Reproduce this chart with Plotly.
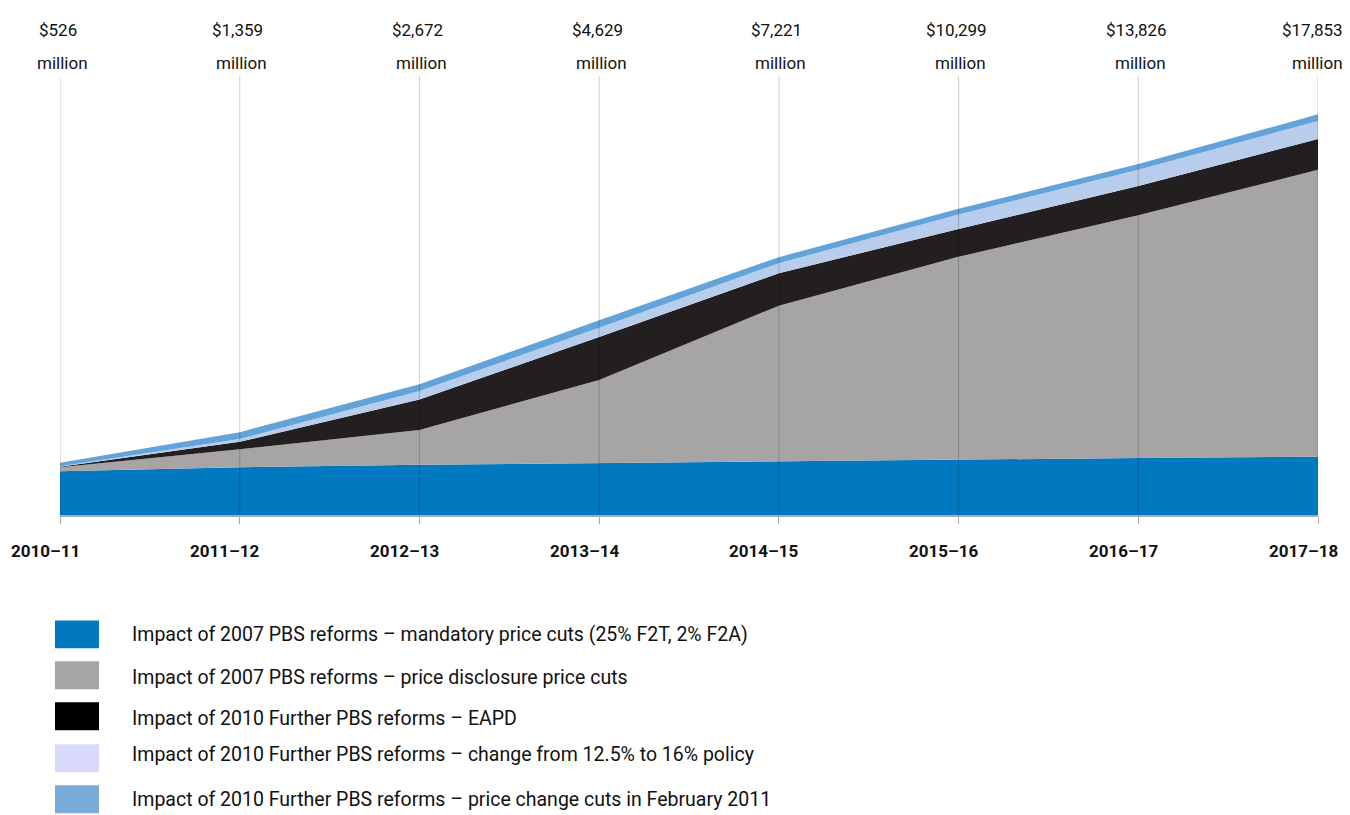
import plotly.graph_objects as go
import numpy as np

years = ["2010–11", "2011–12", "2012–13", "2013–14", "2014–15", "2015–16", "2016–17", "2017–18"]
mandatory = [440, 480, 505, 522, 545, 555, 573, 586]
disclosure = [40, 180, 350, 835, 1559, 2040, 2440, 2884]
eapd = [5, 76, 306, 431, 326, 280, 294, 309]
policy = [5, 27, 85, 94, 101, 146, 163, 181]
feb2011 = [36, 70, 67, 75, 61, 57, 57, 67]

names = [
    "Impact of 2007 PBS reforms – mandatory price cuts (25% F2T, 2% F2A)",
    "Impact of 2007 PBS reforms – price disclosure price cuts",
    "Impact of 2010 Further PBS reforms – EAPD",
    "Impact of 2010 Further PBS reforms – change from 12.5% to 16% policy",
    "Impact of 2010 Further PBS reforms – price change cuts in February 2011",
]
series = [mandatory, disclosure, eapd, policy, feb2011]
fill_colors = ["#0079c1", "#a6a4a5", "#231f20", "#b8cdeb", "#62a3d9"]
legend_colors = ["#0079c1", "#a6a4a5", "#000000", "#d9d9fb", "#7aaad6"]

FONT = "Roboto, Liberation Sans Narrow, sans-serif"

x = list(range(len(years)))
fig = go.Figure()
for nm, vals, col in zip(names, series, fill_colors):
    fig.add_trace(go.Scatter(
        x=x, y=vals, name=nm, stackgroup="one", mode="lines",
        line=dict(width=0, color=col), fillcolor=col, showlegend=False,
        hoverinfo="skip",
    ))

annual = np.sum(np.array(series), axis=0)
cumulative = np.cumsum(annual)

# page has an 8px body margin; target plot area on the page: x 60..1318, y 76..515.5
OFF = 8
W, H = 1350, 815
ml, mr, mt, mb = 60 - OFF, W + OFF - 1318, 76 - OFF, H + OFF - 515.5
plot_w = W - ml - mr
plot_h = H - mt - mb
px_per_m = 1 / 10.04
ymax = plot_h / px_per_m

annotations = []
last = len(cumulative) - 1
for i, c in enumerate(cumulative):
    if i == last:
        anchor, s1, s2 = "right", 27, 27
    else:
        anchor, s1, s2 = "center", -2, 2
    annotations.append(dict(x=i, y=1, xref="x", yref="paper", yanchor="middle", xanchor=anchor,
                            yshift=(76 - 30), xshift=s1, showarrow=False,
                            text=f"${int(c):,}", font=dict(family=FONT, size=17, color="#111")))
    annotations.append(dict(x=i, y=1, xref="x", yref="paper", yanchor="middle", xanchor=anchor,
                            yshift=(76 - 63), xshift=s2, showarrow=False,
                            text="million", font=dict(family=FONT, size=17, color="#111")))

# category labels under the axis (shifted slightly left of the ticks, as in the original)
for i, yr in enumerate(years):
    annotations.append(dict(x=i, y=0, xref="x", yref="paper", yanchor="middle",
                            yshift=-(551 - 515.5), xshift=-15, showarrow=False,
                            text=f"<b>{yr}</b>", font=dict(family=FONT, size=17, color="#111")))

shapes = []
for i in x:
    shapes.append(dict(type="line", xref="x", yref="paper", x0=i, x1=i, y0=0, y1=1,
                       line=dict(color="rgba(0,0,0,0.16)", width=1.2), layer="above"))

# custom legend (page pixel coordinates converted to paper)
def py2paper(py):
    return (515.5 - py) / plot_h

def px2paper(px):
    return (px - 60) / plot_w

leg_tops = [621, 662, 703, 745, 786]
leg_text_y = [635, 678, 719, 755, 800]
for top, ty, col, nm in zip(leg_tops, leg_text_y, legend_colors, names):
    shapes.append(dict(type="rect", xref="paper", yref="paper",
                       x0=px2paper(55), x1=px2paper(99), y0=py2paper(top + 28), y1=py2paper(top),
                       fillcolor=col, line=dict(width=0)))
    annotations.append(dict(x=px2paper(130), y=py2paper(ty), xref="paper", yref="paper",
                            xanchor="left", yanchor="middle", showarrow=False, text=nm,
                            font=dict(family=FONT, size=19.5, color="#111")))

fig.update_layout(
    width=W, height=H,
    margin=dict(l=ml, r=mr, t=mt, b=mb, pad=0, autoexpand=False),
    paper_bgcolor="white", plot_bgcolor="white",
    showlegend=False,
    xaxis=dict(range=[0, 7], tickvals=x, showticklabels=False, automargin=False,
               showgrid=False, zeroline=False,
               showline=True, linecolor="#aaaaaa", linewidth=1.5,
               ticks="outside", ticklen=7, tickcolor="#aaaaaa", tickwidth=1.2),
    yaxis=dict(range=[0, ymax], visible=False, showgrid=False, zeroline=False, automargin=False),
    shapes=shapes,
    annotations=annotations,
)

fig.write_html("out.html")
